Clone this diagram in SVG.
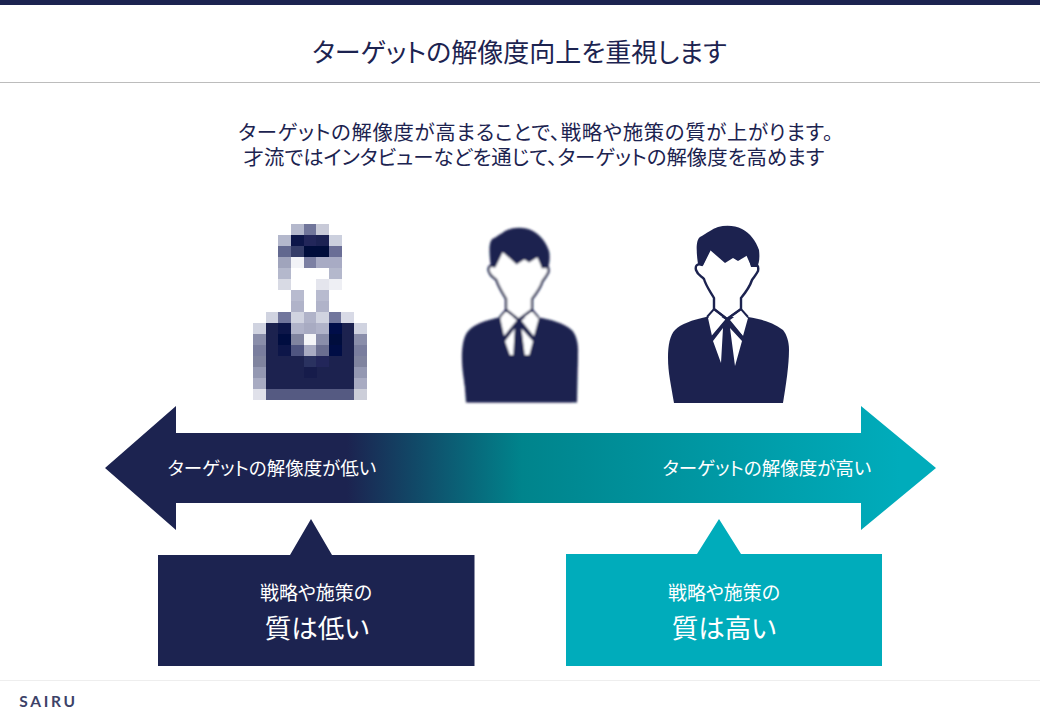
<svg xmlns="http://www.w3.org/2000/svg" width="1040" height="720" viewBox="0 0 1040 720">
<style>
text{font-family:"Noto Sans CJK JP","Liberation Sans",sans-serif;text-anchor:middle;font-feature-settings:"palt"}
.d{fill:#1c2350}.w{fill:#fff}
.line{fill:#1c2350;font-size:20.400px}
</style>
<defs>
<linearGradient id="g1" gradientUnits="userSpaceOnUse" x1="347" y1="0" x2="522" y2="0"><stop offset="0" stop-color="#1c2350"/><stop offset="1" stop-color="#00848c"/></linearGradient>
<linearGradient id="g2" gradientUnits="userSpaceOnUse" x1="522" y1="0" x2="900" y2="0"><stop offset="0" stop-color="#00848c"/><stop offset="1" stop-color="#00acbb"/></linearGradient>
<filter id="b1" x="-5%" y="-5%" width="110%" height="110%"><feGaussianBlur stdDeviation="0.8"/></filter>
<filter id="b2" x="-5%" y="-5%" width="110%" height="110%"><feGaussianBlur stdDeviation="0.35"/></filter>
<filter id="b3" x="-5%" y="-5%" width="110%" height="110%"><feGaussianBlur stdDeviation="0.7"/></filter>
<g id="person">
<path class="d" d="M674 403 C671 385 668 372 668 358 C668 345 670 335 675 330 C681 324 692 320 706 317 L748 317 C760 319 773 322 783 330 C787 335 789 342 789 350 C789 365 786 385 783 403 Z"/>
<path class="w" d="M708 318 L714 312 L726 320 L712 336 Z M730 320 L741 312 L748 318 L743 336 Z M713 341 L723 328 L721 363 Z M730 328 L742 341 L735 366 Z"/>
<path class="w" stroke="#1c2350" stroke-width="2.400" stroke-linejoin="round" d="M714 309 L714 298 C710 291 706 286 704 279 C702 276 698 276 696 270 C695 266 697 263 702 265 L712 245 L743 245 L752 265 C757 263 759 266 758 271 C756 275 754 277 752 280 C750 286 746 292 741 298 L741 309 L727 319 Z"/>
<path class="d" d="M698 264 C696 250 696 240 700 237 C704 235 706 233 710 231 C718 225 732 224 742 229 C750 233 756 241 759 250 C760 258 759 264 757 267 L751 267 L748 255 L738 261 L733 258 L725 263 L710 250 L703 265 Z"/>
<path d="M707 317 L714 309 L727 319 L741 309 L748 317 M712 337 L727 319 L744 339" fill="none" stroke="#1c2350" stroke-width="2"/>
</g>
</defs>
<rect x="0" y="0" width="1040" height="5" class="d"/>
<text x="519.500" y="62" font-size="26" class="d">ターゲットの解像度向上を重視します</text>
<rect x="0" y="82" width="1040" height="1" fill="#bcbcbc"/>
<text x="536" y="140" class="line" letter-spacing="0.680">ターゲットの解像度が高まることで、戦略や施策の質が上がります。</text>
<text x="534" y="165" class="line">才流ではインタビューなどを通じて、ターゲットの解像度を高めます</text>

<g id="person-low" filter="url(#b3)" shape-rendering="crispEdges">
<rect x="291" y="224" width="13" height="12" fill="#b4b8cc"/><rect x="304" y="224" width="13" height="12" fill="#70759a"/><rect x="316" y="224" width="13" height="12" fill="#c8cad8"/>
<rect x="278" y="235" width="13" height="12" fill="#b4b8cc"/><rect x="291" y="235" width="13" height="12" fill="#0f1648"/><rect x="304" y="235" width="13" height="12" fill="#20285a"/><rect x="316" y="235" width="13" height="12" fill="#1c2352"/><rect x="329" y="235" width="13" height="12" fill="#ccd0de"/>
<rect x="278" y="246" width="13" height="12" fill="#62678f"/><rect x="291" y="246" width="13" height="12" fill="#363c68"/><rect x="304" y="246" width="13" height="12" fill="#060a3a"/><rect x="316" y="246" width="13" height="12" fill="#04083a"/><rect x="329" y="246" width="13" height="12" fill="#6a6e96"/>
<rect x="278" y="257" width="13" height="11" fill="#a0a4bc"/><rect x="291" y="257" width="13" height="11" fill="#f2f3f7"/><rect x="304" y="257" width="13" height="11" fill="#7c80a3"/><rect x="316" y="257" width="26" height="11" fill="#a8abc4"/>
<rect x="278" y="268" width="13" height="11" fill="#b4b8cc"/><rect x="329" y="268" width="13" height="11" fill="#b4b8cc"/>
<rect x="278" y="279" width="13" height="11" fill="#d8dae4"/><rect x="316" y="279" width="13" height="11" fill="#e4e5ed"/><rect x="329" y="279" width="13" height="11" fill="#eeeff4"/>
<rect x="291" y="290" width="13" height="11" fill="#b8bbcf"/><rect x="316" y="290" width="13" height="11" fill="#b8bbcf"/>
<rect x="291" y="301" width="13" height="11" fill="#b0b3c9"/><rect x="316" y="301" width="13" height="11" fill="#b0b3c9"/>
<rect x="266" y="312" width="13" height="11" fill="#d0d3e0"/><rect x="278" y="312" width="13" height="11" fill="#71769c"/><rect x="291" y="312" width="13" height="11" fill="#d0d3e0"/><rect x="304" y="312" width="13" height="11" fill="#b0b3c9"/><rect x="316" y="312" width="13" height="11" fill="#d0d3e0"/><rect x="329" y="312" width="13" height="11" fill="#71769c"/><rect x="341" y="312" width="13" height="11" fill="#d8dae6"/>
<rect x="253" y="323" width="13" height="11" fill="#d0d3e0"/><rect x="354" y="323" width="13" height="11" fill="#d0d3e0"/>
<rect x="253" y="334" width="13" height="11" fill="#8a8eaa"/><rect x="354" y="334" width="13" height="11" fill="#8a8eaa"/>
<rect x="253" y="345" width="13" height="11" fill="#7a7e9e"/><rect x="354" y="345" width="13" height="11" fill="#7a7e9e"/>
<rect x="253" y="356" width="13" height="11" fill="#80849f"/><rect x="354" y="356" width="13" height="11" fill="#80849f"/>
<rect x="253" y="367" width="13" height="11" fill="#9498b2"/><rect x="354" y="367" width="13" height="11" fill="#9498b2"/>
<rect x="253" y="378" width="13" height="11" fill="#a8abc2"/><rect x="354" y="378" width="13" height="11" fill="#a8abc2"/>
<rect x="253" y="389" width="13" height="11" fill="#e0e1ea"/><rect x="354" y="389" width="13" height="11" fill="#ccced9"/>
<rect x="266" y="323" width="88" height="66" class="d"/>
<rect x="266" y="389" width="88" height="11" fill="#555a82"/>
<rect x="278" y="323" width="13" height="11" fill="#0c1248"/><rect x="278" y="334" width="13" height="11" fill="#050a40"/><rect x="278" y="345" width="13" height="11" fill="#0c1248"/>
<rect x="329" y="323" width="13" height="11" fill="#04084a"/><rect x="329" y="334" width="13" height="11" fill="#04083e"/><rect x="329" y="345" width="13" height="11" fill="#060a44"/>
<rect x="291" y="323" width="13" height="11" fill="#b0b3c9"/><rect x="304" y="323" width="13" height="11" fill="#a8abc2"/><rect x="316" y="323" width="13" height="11" fill="#b0b3c9"/>
<rect x="291" y="334" width="13" height="11" fill="#80849f"/><rect x="304" y="334" width="13" height="11" fill="#f5f6f8"/><rect x="316" y="334" width="13" height="11" fill="#8a8eaa"/>
<rect x="291" y="345" width="13" height="11" fill="#4f5580"/><rect x="304" y="345" width="13" height="11" fill="#a8abc2"/><rect x="316" y="345" width="13" height="11" fill="#6a6e90"/>
<rect x="304" y="356" width="13" height="11" fill="#2c3260"/><rect x="316" y="356" width="13" height="11" fill="#20285a"/>
<rect x="304" y="367" width="13" height="11" fill="#141b4c"/>
</g>
<g id="person-mid" filter="url(#b1)"><use href="#person" transform="translate(520 227) scale(0.96 0.985) translate(-728.500 -225)"/><path class="d" d="M462.500 355 L466 402.500 H577 L578 355 Z"/></g>
<g id="person-high" filter="url(#b2)"><use href="#person"/></g>

<g id="connectors">
<path id="arrow-left" fill="url(#g1)" d="M105 468 L176 406 V433 H522 V503 H176 V530 Z"/>
<path id="arrow-right" fill="url(#g2)" d="M522 433 H861 V406 L936 468 L861 530 V503 H522 Z"/>
</g>
<text x="272" y="475" font-size="18.500" class="w">ターゲットの解像度が低い</text>
<text x="767" y="475" font-size="18.500" class="w">ターゲットの解像度が高い</text>

<g id="callout-low">
<path class="d" d="M158 555 H290 L311 519 L332 555 H474.500 V666 H158 Z"/>
<text x="316" y="600" font-size="19" class="w">戦略や施策の</text>
<text x="317" y="638" font-size="26.500" class="w">質は低い</text>
</g>
<g id="callout-high">
<path fill="#00acbb" d="M566 554 H697 L719 519 L741 554 H882 V666 H566 Z"/>
<text x="724" y="600" font-size="19" class="w">戦略や施策の</text>
<text x="724" y="638" font-size="26.500" class="w">質は高い</text>
</g>
<rect x="0" y="680" width="1040" height="1" fill="#eeeeee"/>
<text x="48.500" y="707" font-size="15.500" font-weight="700" letter-spacing="2.700" fill="#3c4268" style="font-family:Lato,'Liberation Sans',sans-serif">SAIRU</text>
</svg>
